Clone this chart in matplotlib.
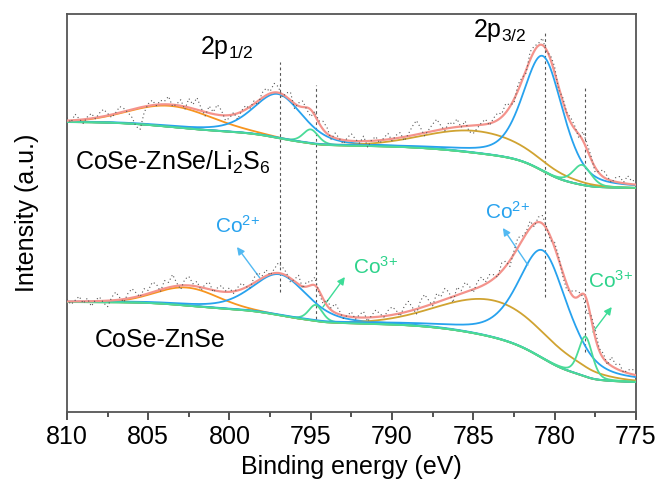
import matplotlib
matplotlib.use("Agg")
import matplotlib.pyplot as plt
import numpy as np

plt.rcParams['font.family'] = ['Liberation Sans', 'DejaVu Sans']
plt.rcParams['mathtext.fontset'] = 'custom'
plt.rcParams['mathtext.rm'] = 'Liberation Sans'
plt.rcParams['mathtext.default'] = 'regular'

# fitted components (binding energy eV, height, FWHM, lorentz fraction)
# order: satellite 2p1/2, Co2+ 2p1/2, Co3+ 2p1/2, satellite 2p3/2, Co2+ 2p3/2, Co3+ 2p3/2
top_centers = [803.6, 797.0, 795.0, 784.7, 780.7, 778.3]
top_heights = [21, 44, 14, 22, 115, 20]
top_fwhm = [6.0, 3.6, 1.1, 7.5, 2.9, 1.3]
top_eta = [0.0, 0.4, 0.3, 0.0, 0.4, 0.3]
top_bg = [290, 224]   # background at 810 eV and 775 eV

bot_centers = [802.6, 796.9, 794.7, 783.6, 780.7, 778.1]
bot_heights = [18, 41, 16, 37, 108, 40]
bot_fwhm = [4.5, 4.0, 1.0, 8.0, 3.6, 1.0]
bot_eta = [0.0, 0.4, 0.3, 0.0, 0.5, 0.3]
bot_bg = [110, 30]

# raw counts minus fit envelope, every 0.25 eV from 810 to 775
top_resid = [3, -2, 6, 1, -4, 2, 5, -1, 4, 7, 2, -3, 1, 6, 3, -2, -8, -18, -22, -6,
             2, 5, -1, 4, 3, 8, -2, 1, 6, -3, 9, 4, 12, 3, -4, 7, 2, 10, 5, -5,
             -3, 2, -6, 1, 4, -2, 3, -4, 5, 7, 2, 9, 6, -3, 4, 8, -5, 3, 6, -2,
             -7, 4, 2, 8, 6, -3, 5, 1, -4, 3, 7, 2, -2, 5, -6, 1, 4, -3, 2, 6,
             -2, 3, 5, -4, 2, 9, 14, 6, -3, 2, 7, 11, 4, -2, 6, 3, 8, -1, 5, -6,
             -8, -3, 2, 5, -2, 4, 7, 3, 9, 2, -4, 6, 3, -3, 8, 5, 2, 7, -2, 4,
             6, -3, 4, 1, 5, 3, -4, 9, 6, 3, -5, 2, 7, 3, -2, 4, 6, 1, 8, 3, 5]
bot_resid = [2, -3, 1, 5, -2, 3, -5, 1, 4, -2, -6, 3, 8, 2, -3, 5, 9, 4, -1, 6,
             3, 10, 7, -2, 8, 5, 12, 3, -4, 6, 9, 2, 5, -3, 4, 7, -2, 3, 6, 1,
             4, -2, 3, 6, 1, -3, 5, 8, 2, 6, -1, 4, 10, 7, 3, -4, 2, 9, -2, 5,
             3, 8, -2, -5, 6, 2, 9, 4, -3, 1, 5, -2, 3, 6, -4, 2, 7, 3, -1, 5,
             8, 4, -3, 6, 10, 3, -5, 7, 12, 5, -2, 9, 4, 11, 6, -6, 8, 3, 10, 5,
             -3, 6, 9, 2, 7, 4, -2, 8, 5, -6, 3, 10, 4, 2, 7, -3, 5, 8, 2, -4,
             5, 3, -4, -6, 2, 7, 4, -3, -12, 3, 8, 2, 5, -2, 9, 4, 6, -1, 3, 5, 4]

c_env = '#F4938C'
c_blue = '#27A2EE'
c_org = '#F7951F'
c_gold = '#D0A331'
c_grn = '#4ADB98'
c_bg = '#1CB57B'
comp_colors = [c_org, c_blue, c_grn, c_gold, c_blue, c_grn]

x = np.linspace(810, 775, 1401)


def pv(e, c, h, w, eta):
    g = np.exp(-4 * np.log(2) * ((e - c) / w) ** 2)
    l = 1 / (1 + 4 * ((e - c) / w) ** 2)
    return h * ((1 - eta) * g + eta * l)


def shirley(sig, b_hi, b_lo):
    s = sig[::-1]
    cum = np.concatenate([[0], np.cumsum((s[1:] + s[:-1]) / 2)])[::-1]
    return b_lo + (b_hi - b_lo) * cum / cum[0]


fig = plt.figure(figsize=(6.63, 4.88), dpi=100)
ax = fig.add_axes([0.101, 0.1557, 0.858, 0.8156])

for cen, hts, fw, et, bgv, res in [(top_centers, top_heights, top_fwhm, top_eta, top_bg, top_resid),
                                   (bot_centers, bot_heights, bot_fwhm, bot_eta, bot_bg, bot_resid)]:
    peaks = [pv(x, c, h, w, e) for c, h, w, e in zip(cen, hts, fw, et)]
    total = np.sum(peaks, axis=0)
    bg = shirley(total, bgv[0], bgv[1])
    ax.plot(x, bg, color=c_bg, lw=1.4, zorder=2)
    for p, col in zip(peaks, comp_colors):
        ax.plot(x, bg + p, color=col, lw=1.3, zorder=3)
    env = bg + total
    ax.plot(x, env, color=c_env, lw=1.6, zorder=4)
    ax.plot(x[::10], env[::10] + np.array(res), color='#555555', lw=0.8,
            ls=(0, (1, 2.5)), zorder=5)

# guide lines through the peak positions
vl_e = [796.9, 794.7, 780.6, 778.1]
vl_top = [350, 327, 380, 325]
vl_bot = [120, 93, 115, 60]
for e, t, b in zip(vl_e, vl_top, vl_bot):
    ax.plot([e, e], [b, t], color='#555555', lw=0.8, ls=(0, (2.5, 2.5)), zorder=1)

fs = 18
ax.text(800.16, 365, '2p$_{1/2}$', fontsize=fs, ha='center', va='center')
ax.text(783.37, 382, '2p$_{3/2}$', fontsize=fs, ha='center', va='center')
ax.text(809.5, 250, 'CoSe-ZnSe/Li$_2$S$_6$', fontsize=fs, ha='left', va='center')
ax.text(808.3, 72, 'CoSe-ZnSe', fontsize=fs, ha='left', va='center')

ann = [('Co$^{2{+}}$', c_blue, '#52B9F2', (798.13, 134), (799.54, 165), (799.54, 186)),
       ('Co$^{3{+}}$', '#2DD38B', '#3DDC97', (794.25, 105), (792.9, 135), (791.05, 145)),
       ('Co$^{2{+}}$', c_blue, '#52B9F2', (781.64, 147), (783.18, 184), (782.87, 200)),
       ('Co$^{3{+}}$', '#2DD38B', '#3DDC97', (777.64, 80), (776.48, 105), (776.54, 131))]
for txt, tc, ac, tail, head, tpos in ann:
    ax.annotate('', xy=head, xytext=tail,
                arrowprops=dict(arrowstyle='-|>', color=ac, lw=1.0,
                                mutation_scale=11, shrinkA=0, shrinkB=0))
    ax.text(tpos[0], tpos[1], txt, color=tc, fontsize=15, ha='center', va='center')

ax.set_xlim(810, 775)
ax.set_ylim(0, 398)
ax.set_xticks(np.arange(810, 774, -5))
ax.set_xticks(np.arange(807.5, 775, -5), minor=True)
ax.set_yticks([])
ax.tick_params(axis='x', which='major', direction='out', length=6, width=1.2,
               labelsize=18, colors='#333333', labelcolor='black')
ax.tick_params(axis='x', which='minor', direction='out', length=3.5, width=1.2,
               colors='#333333')
for s in ax.spines.values():
    s.set_color('#555555')
    s.set_linewidth(1.3)
ax.set_xlabel('Binding energy (eV)', fontsize=18, labelpad=4)
ax.set_ylabel('Intensity (a.u.)', fontsize=18, labelpad=20)

fig.savefig('out.png', dpi=100)
